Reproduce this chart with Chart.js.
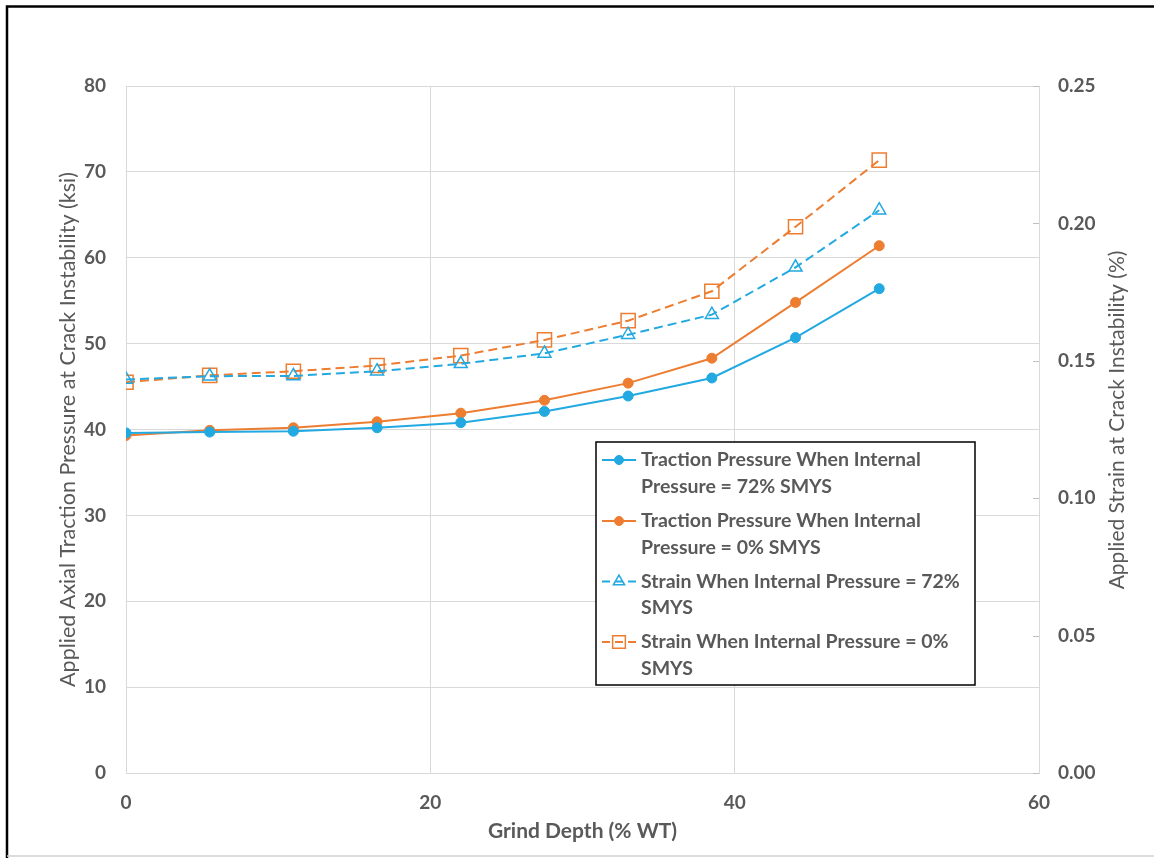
<!DOCTYPE html>
<html>
<head>
<meta charset="utf-8">
<script src="https://cdn.jsdelivr.net/npm/chart.js@4.4.0/dist/chart.umd.min.js"></script>
<style>
  body { margin: 0; background: #fff; }
  canvas { display: block; }
</style>
</head>
<body>
<canvas id="chart" width="1154" height="858"></canvas>
<script>
const grindDepth = [0, 5.5, 11, 16.5, 22, 27.5, 33, 38.5, 44, 49.5];

const traction_72 = [39.6, 39.7, 39.8, 40.2, 40.8, 42.1, 43.9, 46.0, 50.7, 56.4];
const traction_0 = [39.3, 39.9, 40.2, 40.9, 41.9, 43.4, 45.4, 48.3, 54.8, 61.4];
const strain_72 = [0.1432, 0.1444, 0.1445, 0.1462, 0.1489, 0.1527, 0.1595, 0.1668, 0.1840, 0.2048];
const strain_0 = [0.1422, 0.1447, 0.1462, 0.1483, 0.1519, 0.1576, 0.1646, 0.1753, 0.1988, 0.2230];

const seriesLabels = [
  ['Traction Pressure When Internal', 'Pressure = 72% SMYS'],
  ['Traction Pressure When Internal', 'Pressure = 0% SMYS'],
  ['Strain When Internal Pressure = 72%', 'SMYS'],
  ['Strain When Internal Pressure = 0%', 'SMYS']
];

const BLUE = '#22a9e1';
const ORANGE = '#ed7d31';
const GREY = '#595959';
const FONT = 'Lato';
const NONE = 'rgba(0,0,0,0)';

function toPoints(values) {
  return grindDepth.map((x, i) => ({ x: x, y: values[i] }));
}

const data = {
  datasets: [
    {
      label: seriesLabels[0],
      data: toPoints(traction_72),
      yAxisID: 'y',
      borderColor: BLUE,
      backgroundColor: BLUE,
      borderWidth: 2,
      pointStyle: 'circle',
      pointRadius: 5,
      pointBorderWidth: 1,
      legendRadius: 4.5
    },
    {
      label: seriesLabels[1],
      data: toPoints(traction_0),
      yAxisID: 'y',
      borderColor: ORANGE,
      backgroundColor: ORANGE,
      borderWidth: 2,
      pointStyle: 'circle',
      pointRadius: 5,
      pointBorderWidth: 1,
      legendRadius: 4.5
    },
    {
      label: seriesLabels[2],
      data: toPoints(strain_72),
      yAxisID: 'y1',
      borderColor: BLUE,
      backgroundColor: NONE,
      pointBackgroundColor: NONE,
      borderWidth: 2,
      borderDash: [9, 5],
      pointStyle: 'triangle',
      pointRadius: 7.5,
      pointBorderWidth: 1.5,
      legendRadius: 6.5
    },
    {
      label: seriesLabels[3],
      data: toPoints(strain_0),
      yAxisID: 'y1',
      borderColor: ORANGE,
      backgroundColor: NONE,
      pointBackgroundColor: NONE,
      borderWidth: 2,
      borderDash: [9, 5],
      pointStyle: 'rect',
      pointRadius: 10,
      pointBorderWidth: 1.5,
      legendRadius: 9
    }
  ]
};

// frame, right axis title, inner ticks and the boxed legend
const decorations = {
  id: 'decorations',
  beforeDraw(chart) {
    const ctx = chart.ctx;
    ctx.save();
    ctx.fillStyle = '#fff';
    ctx.fillRect(0, 0, chart.width, chart.height);
    ctx.restore();
  },
  afterDraw(chart) {
    const ctx = chart.ctx;
    const area = chart.chartArea;
    const y1 = chart.scales.y1;
    ctx.save();

    // small inner tick marks on the right axis
    ctx.strokeStyle = '#bfbfbf';
    ctx.lineWidth = 1;
    y1.ticks.forEach(t => {
      const py = Math.round(y1.getPixelForValue(t.value)) + 0.5;
      ctx.beginPath();
      ctx.moveTo(area.right - 6, py);
      ctx.lineTo(area.right, py);
      ctx.stroke();
    });

    // right axis title, reading bottom to top
    ctx.fillStyle = GREY;
    ctx.font = '21px ' + FONT;
    ctx.textAlign = 'center';
    ctx.textBaseline = 'middle';
    ctx.translate(1117, 420);
    ctx.rotate(-Math.PI / 2);
    ctx.fillText('Applied Strain at Crack Instability (%)', 0, 0);
    ctx.setTransform(1, 0, 0, 1, 0, 0);

    // legend box
    const bx = 596, by = 442, bw = 379, bh = 243;
    ctx.fillStyle = '#fff';
    ctx.fillRect(bx, by, bw, bh);
    ctx.strokeStyle = '#000';
    ctx.lineWidth = 1.5;
    ctx.strokeRect(bx, by, bw, bh);

    const rows = [460, 521, 581.5, 642];
    chart.data.datasets.forEach((ds, i) => {
      const ry = rows[i];
      ctx.strokeStyle = ds.borderColor;
      ctx.lineWidth = 2;
      ctx.setLineDash(ds.borderDash ? [8, 5] : []);
      ctx.beginPath();
      ctx.moveTo(602, ry);
      ctx.lineTo(636, ry);
      ctx.stroke();
      ctx.setLineDash([]);
      ctx.fillStyle = ds.pointBackgroundColor || ds.backgroundColor;
      ctx.strokeStyle = ds.borderColor;
      ctx.lineWidth = ds.pointBorderWidth;
      Chart.helpers.drawPoint(ctx, {
        pointStyle: ds.pointStyle,
        radius: ds.legendRadius,
        rotation: 0,
        borderWidth: ds.pointBorderWidth
      }, 619, ry);
      ctx.fillStyle = GREY;
      ctx.font = 'bold 19.5px ' + FONT;
      ctx.textAlign = 'left';
      ctx.textBaseline = 'middle';
      ds.label.forEach((line, k) => {
        ctx.fillText(line, 641, ry + k * 26.5);
      });
    });

    // outer frame of the picture
    ctx.strokeStyle = '#000';
    ctx.lineWidth = 2.5;
    ctx.beginPath();
    ctx.moveTo(7, 858);
    ctx.lineTo(7, 6.5);
    ctx.lineTo(1154, 6.5);
    ctx.stroke();
    ctx.strokeStyle = '#d0d0d0';
    ctx.lineWidth = 1.5;
    ctx.beginPath();
    ctx.moveTo(7, 856);
    ctx.lineTo(1154, 856);
    ctx.stroke();

    ctx.restore();
  }
};

const tickFont = { family: FONT, size: 19, weight: 'bold' };

const config = {
  type: 'line',
  data,
  options: {
    responsive: false,
    animation: false,
    devicePixelRatio: 1,
    layout: { padding: { top: 86, left: 0, right: 0, bottom: 0 } },
    plugins: {
      legend: { display: false },
      tooltip: { enabled: false }
    },
    scales: {
      x: {
        type: 'linear',
        min: 0,
        max: 60,
        ticks: { stepSize: 20, color: GREY, font: tickFont, padding: 18 },
        grid: { color: '#d9d9d9', drawTicks: false },
        border: { color: '#d9d9d9' },
        title: {
          display: true,
          text: 'Grind Depth (% WT)',
          color: GREY,
          font: { family: FONT, size: 21, weight: 'bold' },
          padding: { top: 0, bottom: 14 }
        },
        afterFit(scale) { scale.height = 85; }
      },
      y: {
        position: 'left',
        min: 0,
        max: 80,
        ticks: { stepSize: 10, color: GREY, font: tickFont, padding: 20 },
        grid: { color: '#d9d9d9', drawTicks: false },
        border: { color: '#d9d9d9' },
        title: {
          display: true,
          text: 'Applied Axial Traction Pressure at Crack Instability (ksi)',
          color: GREY,
          font: { family: FONT, size: 21.5 },
          padding: { top: 55, bottom: 0 }
        },
        afterFit(scale) { scale.width = 126; }
      },
      y1: {
        position: 'right',
        min: 0,
        max: 0.25,
        ticks: {
          stepSize: 0.05,
          color: GREY,
          font: tickFont,
          padding: 19,
          callback: v => v.toFixed(2)
        },
        grid: { drawOnChartArea: false, drawTicks: false },
        border: { color: '#d9d9d9' },
        afterFit(scale) { scale.width = 115; }
      }
    }
  },
  plugins: [decorations]
};

const myChart = new Chart(document.getElementById('chart'), config);
</script>
</body>
</html>
